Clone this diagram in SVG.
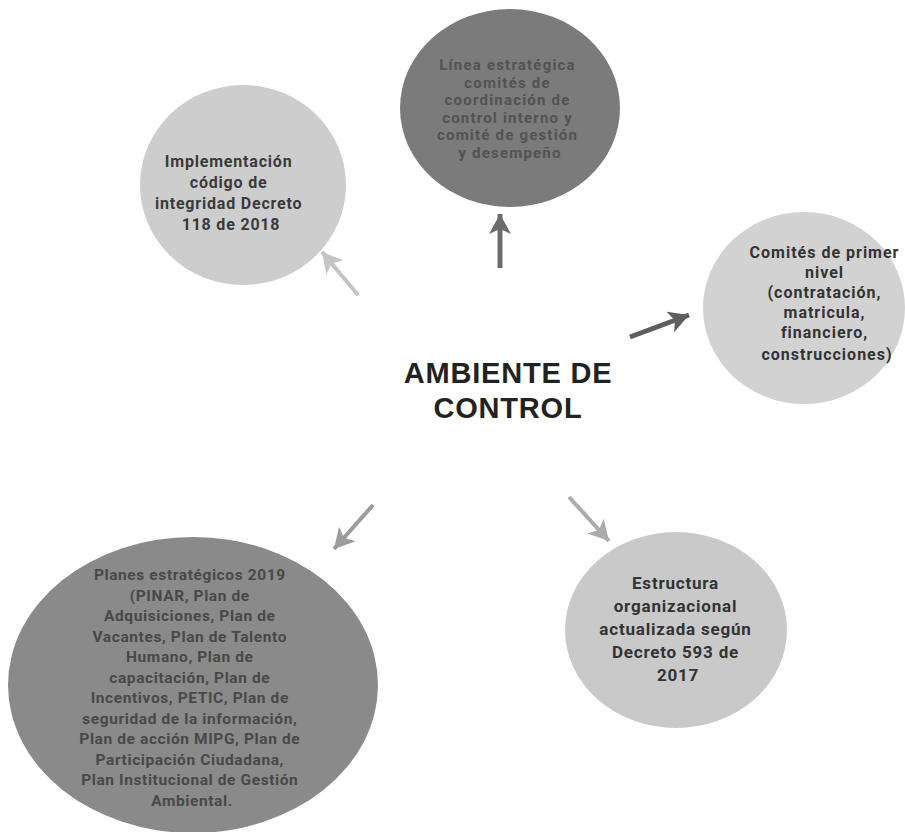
<svg xmlns="http://www.w3.org/2000/svg" width="905" height="832" viewBox="0 0 905 832">
<defs>
<style>
.t{font-family:Roboto,"Liberation Sans",Arial,sans-serif;font-weight:bold;text-anchor:middle}
.title{font-family:"Liberation Sans",Arial,sans-serif;font-weight:bold;font-size:29px;fill:#222;text-anchor:middle;letter-spacing:0.8px}
.c{stroke:none}
</style>
<marker id="mDark" markerUnits="userSpaceOnUse" markerWidth="24" markerHeight="24" refX="20" refY="11" orient="auto"><path d="M0,0 L20,11 L0,22 L5,11 Z" fill="#5e5e5e"/></marker>
<marker id="mMid" markerUnits="userSpaceOnUse" markerWidth="24" markerHeight="24" refX="20" refY="11" orient="auto"><path d="M0,0 L20,11 L0,22 L5,11 Z" fill="#6c6c6c"/></marker>
<marker id="mGray" markerUnits="userSpaceOnUse" markerWidth="24" markerHeight="24" refX="20" refY="11" orient="auto"><path d="M0,0 L20,11 L0,22 L5,11 Z" fill="#9c9c9c"/></marker>
<marker id="mLight" markerUnits="userSpaceOnUse" markerWidth="24" markerHeight="24" refX="20" refY="11" orient="auto"><path d="M0,0 L20,11 L0,22 L5,11 Z" fill="#ababab"/></marker>
<marker id="mPale" markerUnits="userSpaceOnUse" markerWidth="24" markerHeight="24" refX="20" refY="11" orient="auto"><path d="M0,0 L20,11 L0,22 L5,11 Z" fill="#c4c4c4"/></marker>
</defs>
<rect width="905" height="832" fill="#ffffff"/>

<g id="connectors" fill="none" stroke-linecap="butt">
<line x1="500" y1="268" x2="500" y2="214" stroke="#6c6c6c" stroke-width="5" marker-end="url(#mMid)"/>
<line x1="358" y1="295" x2="322" y2="252" stroke="#c4c4c4" stroke-width="4" marker-end="url(#mPale)"/>
<line x1="630" y1="337" x2="689" y2="315" stroke="#5e5e5e" stroke-width="5" marker-end="url(#mDark)"/>
<line x1="373" y1="505" x2="334" y2="549" stroke="#9c9c9c" stroke-width="4" marker-end="url(#mGray)"/>
<line x1="569" y1="497" x2="609" y2="541" stroke="#ababab" stroke-width="4" marker-end="url(#mLight)"/>
</g>

<g id="center">
<text class="title" x="508" y="383">AMBIENTE DE</text>
<text class="title" x="508" y="418">CONTROL</text>
</g>

<g id="node-linea">
<ellipse class="c" cx="510" cy="108" rx="110" ry="99" fill="#7b7b7b"/>
<text class="t" font-size="15" letter-spacing="1.2" fill="#525252">
<tspan x="510" y="70">Línea estratégica</tspan>
<tspan x="510" y="87.5">comités de</tspan>
<tspan x="510" y="105">coordinación de</tspan>
<tspan x="510" y="122.5">control interno y</tspan>
<tspan x="510" y="140">comité de gestión</tspan>
<tspan x="510" y="157.5">y desempeño</tspan>
</text>
</g>

<g id="node-codigo">
<ellipse class="c" cx="243" cy="185" rx="103" ry="100" fill="#cdcdcd"/>
<text class="t" font-size="16" letter-spacing="0.8" fill="#3a3a3a">
<tspan x="231" y="167">Implementación</tspan>
<tspan x="231" y="188">código de</tspan>
<tspan x="231" y="209">integridad Decreto</tspan>
<tspan x="231" y="230">118 de 2018</tspan>
</text>
</g>

<g id="node-comites">
<ellipse class="c" cx="804" cy="308" rx="101" ry="96" fill="#d2d2d2"/>
<text class="t" font-size="16" letter-spacing="1" fill="#333333">
<tspan x="827" y="258">Comités de primer</tspan>
<tspan x="827" y="278">nivel</tspan>
<tspan x="827" y="298">(contratación,</tspan>
<tspan x="827" y="318">matricula,</tspan>
<tspan x="827" y="338">financiero,</tspan>
<tspan x="827" y="360">construcciones)</tspan>
</text>
</g>

<g id="node-estructura">
<ellipse class="c" cx="676" cy="630" rx="111" ry="98" fill="#c9c9c9"/>
<text class="t" font-size="17" letter-spacing="0.8" fill="#333333">
<tspan x="678" y="589">Estructura</tspan>
<tspan x="678" y="612">organizacional</tspan>
<tspan x="678" y="635">actualizada según</tspan>
<tspan x="678" y="658">Decreto 593 de</tspan>
<tspan x="678" y="681">2017</tspan>
</text>
</g>

<g id="node-planes">
<ellipse class="c" cx="193" cy="685" rx="185" ry="148" fill="#8a8a8a"/>
<text class="t" font-size="15.5" letter-spacing="0.6" fill="#484848">
<tspan x="192" y="580">Planes estratégicos 2019</tspan>
<tspan x="192" y="600.5">(PINAR, Plan de</tspan>
<tspan x="192" y="621">Adquisiciones, Plan de</tspan>
<tspan x="192" y="641.5">Vacantes, Plan de Talento</tspan>
<tspan x="192" y="662">Humano, Plan de</tspan>
<tspan x="192" y="682.5">capacitación, Plan de</tspan>
<tspan x="192" y="703">Incentivos, PETIC, Plan de</tspan>
<tspan x="192" y="723.5">seguridad de la información,</tspan>
<tspan x="192" y="744">Plan de acción MIPG, Plan de</tspan>
<tspan x="192" y="764.5">Participación Ciudadana,</tspan>
<tspan x="192" y="785">Plan Institucional de Gestión</tspan>
<tspan x="192" y="805.5">Ambiental.</tspan>
</text>
</g>
</svg>
